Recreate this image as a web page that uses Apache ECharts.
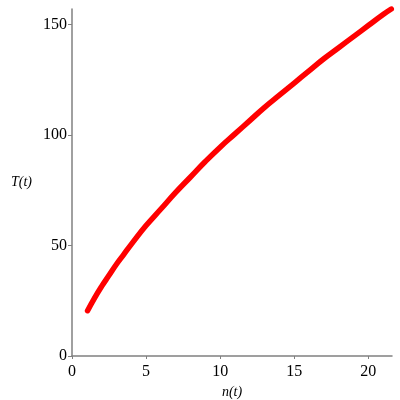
<!DOCTYPE html>
<html>
<head>
<meta charset="utf-8">
<script src="https://cdn.jsdelivr.net/npm/echarts@6/dist/echarts.min.js"></script>
<style>
  html, body { margin: 0; padding: 0; background: #fff; }
  #chart { width: 400px; height: 400px; }
</style>
</head>
<body>
<div id="chart"></div>
<script>
// values
const nValues = [1.05, 1.5, 2, 2.5, 3, 3.5, 4, 5, 6, 7, 8, 9, 10, 11, 12, 13, 14, 15, 16, 17, 18, 19, 20, 21, 21.55];
const tValues = [20.5, 26, 31.5, 36.5, 41.5, 46, 50.5, 59, 66.5, 74, 81, 88, 94.5, 100.5, 106.5, 112.5, 118, 123.5, 129, 134.5, 139.5, 144.5, 149.5, 154.5, 157];
const xTicks = [0, 5, 10, 15, 20];
const yTicks = [0, 50, 100, 150];

const chart = echarts.init(document.getElementById("chart"));
const serif = "'Liberation Serif', 'DejaVu Serif', serif";
const axisColor = "#808080";

const option = {
  animation: false,
  grid: { left: 72, right: 8, top: 9, bottom: 44, outerBoundsMode: "none", containLabel: false },
  xAxis: {
    type: "value",
    min: 0,
    max: 21.6,
    name: "n(t)",
    nameLocation: "middle",
    nameGap: 23,
    nameTextStyle: { fontFamily: serif, fontStyle: "italic", fontSize: 14, color: "#000" },
    axisLine: { lineStyle: { color: axisColor, width: 1.5 } },
    axisTick: { length: 3, customValues: xTicks, lineStyle: { color: axisColor } },
    axisLabel: { customValues: xTicks, fontFamily: serif, fontSize: 16, color: "#000", margin: 8 },
    splitLine: { show: false },
  },
  yAxis: {
    type: "value",
    min: 0,
    max: 157,
    name: "T(t)",
    nameLocation: "middle",
    nameRotate: 0,
    nameGap: 40,
    nameTextStyle: { fontFamily: serif, fontStyle: "italic", fontSize: 14, color: "#000" },
    axisLine: { show: true, lineStyle: { color: axisColor, width: 1.5 } },
    axisTick: { show: true, length: 4, customValues: yTicks, lineStyle: { color: axisColor } },
    axisLabel: { customValues: yTicks, fontFamily: serif, fontSize: 16, color: "#000", margin: 5 },
    splitLine: { show: false },
  },
  series: [
    {
      type: "line",
      data: nValues.map((n, i) => [n, tValues[i]]),
      smooth: 0.5,
      showSymbol: false,
      lineStyle: { color: "#ff0000", width: 5.5, cap: "round" },
    },
  ],
};
chart.setOption(option);
</script>
</body>
</html>
